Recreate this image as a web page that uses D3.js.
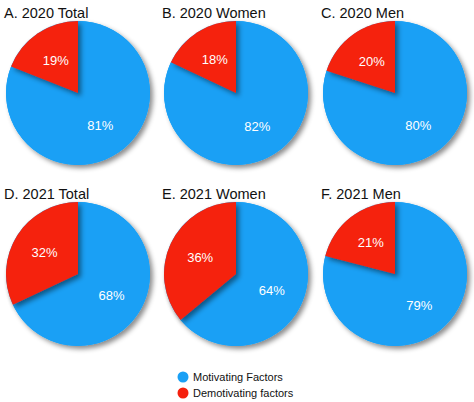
<!DOCTYPE html><html><head><script src="https://cdn.jsdelivr.net/npm/d3@7"></script>
<style>body{margin:0;background:#fff}text{font-family:Helvetica,"Liberation Sans",Arial,sans-serif}</style></head><body>
<svg id="c" width="474" height="402"></svg>
<script>
const titles=["A. 2020 Total","B. 2020 Women","C. 2020 Men","D. 2021 Total","E. 2021 Women","F. 2021 Men"];
const motivating=[81,82,80,68,64,79];
const demotivating=[19,18,20,32,36,21];
const legendLabels=["Motivating Factors","Demotivating factors"];
const colors=["#1aa0f5","#f5200d"];
const svg=d3.select("#c");
const defs=svg.append("defs");
const f=defs.append("filter").attr("id","sh").attr("x","-20%").attr("y","-20%").attr("width","150%").attr("height","150%");
f.append("feDropShadow").attr("dx",3).attr("dy",3).attr("stdDeviation",2.5).attr("flood-color","#000").attr("flood-opacity",0.45);
const cx=[78,236,395],cy=[93,274],r=72;
const pie=d3.pie().sort(null).value(d=>d);
const arc=d3.arc().innerRadius(0).outerRadius(r);
const lab=d3.arc().innerRadius(r*0.55).outerRadius(r*0.55);
titles.forEach((t,i)=>{
  const x=cx[i%3],y=cy[Math.floor(i/3)];
  svg.append("text").attr("x",x-74).attr("y",y-75).attr("font-size",14.5).attr("fill","#111").text(t);
  const g=svg.append("g").attr("transform",`translate(${x},${y})`);
  const data=[motivating[i],demotivating[i]];
  const arcs=pie(data);
  g.append("circle").attr("r",r).attr("fill","#1aa0f5").attr("filter","url(#sh)");
  g.selectAll("path").data(arcs).join("path").attr("d",arc).attr("fill",(d,j)=>colors[j])
   .attr("filter",(d,j)=>j==1?"url(#sh)":null);
  g.selectAll("text").data(arcs).join("text").attr("transform",d=>`translate(${lab.centroid(d)})`)
   .attr("text-anchor","middle").attr("dy","0.35em").attr("font-size",13).attr("fill","#fff").text(d=>d.data+"%");
});
legendLabels.forEach((l,i)=>{
  const y=377+i*16;
  svg.append("circle").attr("cx",183).attr("cy",y).attr("r",5.5).attr("fill",colors[i]);
  svg.append("text").attr("x",193).attr("y",y+4).attr("font-size",11).attr("fill","#111").text(l);
});
</script></body></html>
